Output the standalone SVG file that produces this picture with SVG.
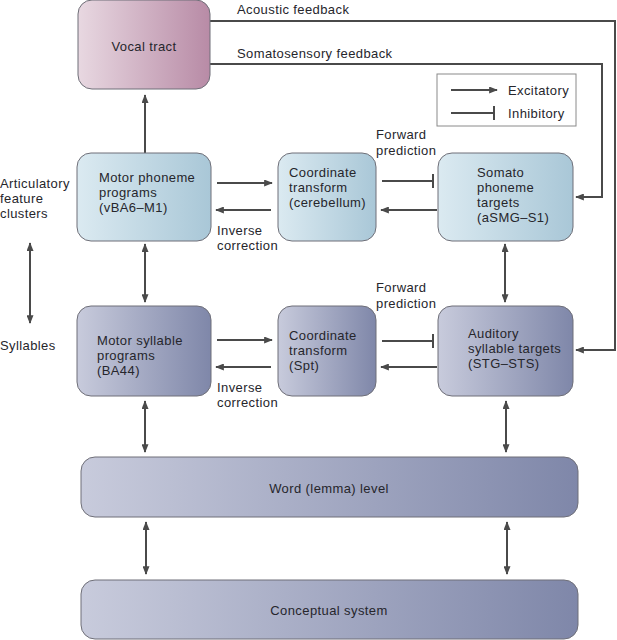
<svg xmlns="http://www.w3.org/2000/svg" width="617" height="640" viewBox="0 0 617 640">
<style>
text{font-family:"Liberation Sans",Arial,sans-serif;font-size:13px;letter-spacing:0.4px;fill:#26262c}
.box{stroke:#6f6f78;stroke-width:1}
.ln{fill:none;stroke:#4a4a4a;stroke-width:2}
.a{marker-end:url(#ah)}
.b{marker-start:url(#ahs);marker-end:url(#ah)}
.i{marker-end:url(#bar)}
</style>
<defs>
<linearGradient id="gPink" x1="0" y1="0" x2="1" y2="0"><stop offset="0" stop-color="#e8d8e1"/><stop offset="1" stop-color="#b88ba6"/></linearGradient>
<linearGradient id="gBlue" x1="0" y1="0" x2="1" y2="0"><stop offset="0" stop-color="#dbeaf1"/><stop offset="1" stop-color="#a9c7d7"/></linearGradient>
<linearGradient id="gSlate" x1="0" y1="0" x2="1" y2="0"><stop offset="0" stop-color="#c8cbdc"/><stop offset="1" stop-color="#7f87a9"/></linearGradient>
<marker id="ah" viewBox="0 0 10 8" refX="9" refY="4" markerWidth="9" markerHeight="7" markerUnits="userSpaceOnUse" orient="auto"><path d="M0,0 L10,4 L0,8 Z" fill="#4a4a4a"/></marker>
<marker id="ahs" viewBox="0 0 10 8" refX="1" refY="4" markerWidth="9" markerHeight="7" markerUnits="userSpaceOnUse" orient="auto"><path d="M10,0 L0,4 L10,8 Z" fill="#4a4a4a"/></marker>
<marker id="bar" viewBox="0 0 2 14" refX="1" refY="7" markerWidth="2" markerHeight="14" markerUnits="userSpaceOnUse" orient="auto"><rect x="0" y="0" width="2" height="14" fill="#4a4a4a"/></marker>
</defs>

<g id="connectors">
<path class="ln a" d="M145,153 V95"/>
<path class="ln a" d="M210,21 H615 V350 H576"/>
<path class="ln a" d="M210,64 H602 V197 H576"/>
<path class="ln a" d="M217,183 H272"/>
<path class="ln a" d="M271,210 H216"/>
<path class="ln i" d="M382,181 H433"/>
<path class="ln a" d="M437,210 H381"/>
<path class="ln a" d="M217,340 H272"/>
<path class="ln a" d="M271,367 H216"/>
<path class="ln i" d="M382,341 H433"/>
<path class="ln a" d="M437,367 H381"/>
<path class="ln b" d="M30,243 V323"/>
<path class="ln b" d="M145,244 V302"/>
<path class="ln b" d="M505,244 V302"/>
<path class="ln b" d="M145,401 V452"/>
<path class="ln b" d="M506,401 V452"/>
<path class="ln b" d="M146,522 V574"/>
<path class="ln b" d="M507,522 V574"/>
</g>

<g id="labels">
<text x="237" y="14">Acoustic feedback</text>
<text x="237" y="58">Somatosensory feedback</text>
<text x="376" y="139">Forward</text>
<text x="376" y="155">prediction</text>
<text x="217" y="235">Inverse</text>
<text x="217" y="250">correction</text>
<text x="376" y="292">Forward</text>
<text x="376" y="308">prediction</text>
<text x="217" y="392">Inverse</text>
<text x="217" y="407">correction</text>
<text x="0" y="188">Articulatory</text>
<text x="0" y="203">feature</text>
<text x="0" y="218">clusters</text>
<text x="0" y="350">Syllables</text>
</g>

<g id="legend">
<rect x="437" y="74" width="139" height="52" fill="#fff" stroke="#8a8a8a" stroke-width="1"/>
<path class="ln a" d="M451,90 H497"/>
<text x="508" y="95">Excitatory</text>
<path class="ln i" d="M451,113 H494"/>
<text x="508" y="118">Inhibitory</text>
</g>

<g id="vocal-tract">
<rect class="box" x="78" y="0" width="132" height="89" rx="14" fill="url(#gPink)"/>
<text x="144" y="51" text-anchor="middle">Vocal tract</text>
</g>

<g id="motor-phoneme">
<rect class="box" x="77" y="153" width="134" height="88" rx="14" fill="url(#gBlue)"/>
<text x="99" y="182">Motor phoneme</text>
<text x="99" y="197">programs</text>
<text x="99" y="212">(vBA6–M1)</text>
</g>

<g id="coord-cerebellum">
<rect class="box" x="278" y="153" width="98" height="88" rx="14" fill="url(#gBlue)"/>
<text x="289" y="177">Coordinate</text>
<text x="289" y="192">transform</text>
<text x="289" y="207">(cerebellum)</text>
</g>

<g id="somato-targets">
<rect class="box" x="438" y="153" width="135" height="88" rx="14" fill="url(#gBlue)"/>
<text x="477" y="177">Somato</text>
<text x="477" y="192">phoneme</text>
<text x="477" y="207">targets</text>
<text x="477" y="222">(aSMG–S1)</text>
</g>

<g id="motor-syllable">
<rect class="box" x="77" y="306" width="134" height="90" rx="14" fill="url(#gSlate)"/>
<text x="97" y="345">Motor syllable</text>
<text x="97" y="360">programs</text>
<text x="97" y="375">(BA44)</text>
</g>

<g id="coord-spt">
<rect class="box" x="278" y="306" width="98" height="90" rx="14" fill="url(#gSlate)"/>
<text x="289" y="340">Coordinate</text>
<text x="289" y="355">transform</text>
<text x="289" y="370">(Spt)</text>
</g>

<g id="auditory-targets">
<rect class="box" x="438" y="306" width="135" height="90" rx="14" fill="url(#gSlate)"/>
<text x="468" y="338">Auditory</text>
<text x="468" y="353">syllable targets</text>
<text x="468" y="368">(STG–STS)</text>
</g>

<g id="word-level">
<rect class="box" x="81" y="457" width="497" height="60" rx="14" fill="url(#gSlate)"/>
<text x="329" y="493" text-anchor="middle">Word (lemma) level</text>
</g>

<g id="conceptual-system">
<rect class="box" x="81" y="580" width="497" height="59" rx="14" fill="url(#gSlate)"/>
<text x="329" y="615" text-anchor="middle">Conceptual system</text>
</g>
</svg>
